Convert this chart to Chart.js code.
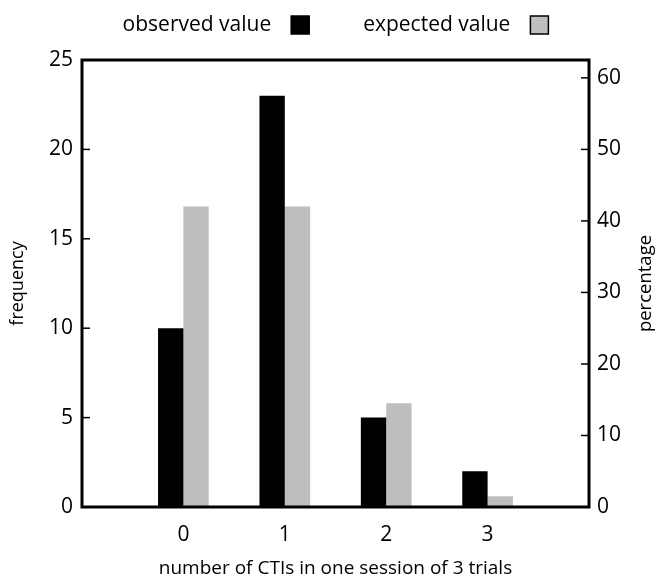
<!DOCTYPE html>
<html>
<head>
<meta charset="utf-8">
<script src="https://cdn.jsdelivr.net/npm/chart.js@4"></script>
<style>
  html, body { margin: 0; padding: 0; background: #fff; }
  #wrap { width: 660px; height: 577px; }
</style>
</head>
<body>
<div id="wrap"><canvas id="c" width="660" height="577"></canvas></div>
<script>
const categories = [0, 1, 2, 3];
const observed = [10, 23, 5, 2];
const expected = [16.8, 16.8, 5.8, 0.6];
const seriesNames = ['observed value', 'expected value'];
const freqTicksMax = 25;
const totalObserved = observed.reduce((a, b) => a + b, 0);

const FONT = '"Open Sans", "DejaVu Sans", sans-serif';

const boxPlugin = {
  id: 'boxAndExtras',
  afterDraw(chart) {
    const ctx = chart.ctx;
    const a = chart.chartArea;
    ctx.save();
    ctx.strokeStyle = '#000';
    ctx.lineWidth = 1.5;
    const y = chart.scales.y, y2 = chart.scales.y2;
    y.ticks.forEach((t, i) => {
      const p = y.getPixelForTick(i);
      ctx.beginPath(); ctx.moveTo(a.left, p); ctx.lineTo(a.left + 8, p); ctx.stroke();
    });
    y2.ticks.forEach((t, i) => {
      const p = y2.getPixelForTick(i);
      ctx.beginPath(); ctx.moveTo(a.right, p); ctx.lineTo(a.right - 8, p); ctx.stroke();
    });
    ctx.lineWidth = 3;
    ctx.strokeRect(a.left, a.top, a.right - a.left, a.bottom - a.top);
    ctx.fillStyle = '#000';
    ctx.font = '18.5px ' + FONT;
    ctx.textAlign = 'center';
    ctx.textBaseline = 'middle';
    ctx.translate(646, (a.top + a.bottom) / 2);
    ctx.rotate(-Math.PI / 2);
    ctx.fillText('percentage', 0, 0);
    ctx.restore();

    ctx.save();
    ctx.font = '21px ' + FONT;
    ctx.textBaseline = 'middle';
    ctx.textAlign = 'left';
    const gapTextBox = 20, boxS = 18, gapItems = 54;
    const items = chart.data.datasets.map(ds => ({ text: ds.label, color: ds.backgroundColor, w: ctx.measureText(ds.label).width }));
    let total = 0;
    items.forEach((it, i) => { total += it.w + gapTextBox + boxS + (i ? gapItems : 0); });
    let x = (a.left + a.right) / 2 - total / 2;
    const cy = 25;
    items.forEach((it, i) => {
      if (i) x += gapItems;
      ctx.fillStyle = '#000';
      ctx.fillText(it.text, x, cy);
      x += it.w + gapTextBox;
      ctx.fillStyle = it.color;
      ctx.fillRect(x, cy - boxS / 2, boxS, boxS);
      ctx.strokeStyle = '#000';
      ctx.lineWidth = 1.5;
      ctx.strokeRect(x, cy - boxS / 2, boxS, boxS);
      x += boxS;
    });
    ctx.restore();
  }
};

new Chart(document.getElementById('c'), {
  type: 'bar',
  data: {
    datasets: [
      { label: seriesNames[0], data: categories.map((c, i) => ({ x: c, y: observed[i] })), backgroundColor: '#000000', yAxisID: 'y' },
      { label: seriesNames[1], data: categories.map((c, i) => ({ x: c, y: expected[i] })), backgroundColor: '#bebebe', yAxisID: 'y' }
    ]
  },
  options: {
    responsive: false,
    animation: false,
    devicePixelRatio: 1,
    layout: { padding: { top: 60, left: 0, right: 0, bottom: 0 } },
    datasets: { bar: { categoryPercentage: 0.5, barPercentage: 1.0, borderWidth: 0 } },
    plugins: { legend: { display: false }, tooltip: { enabled: false } },
    scales: {
      x: {
        type: 'linear', min: -1, max: 4, offset: false,
        grid: { display: false, drawTicks: false },
        border: { display: false },
        ticks: {
          stepSize: 1, color: '#000', padding: 15,
          font: { family: FONT, size: 21 },
          callback: v => (categories.includes(v) ? String(v) : '')
        },
        title: { display: true, text: 'number of CTIs in one session of 3 trials', color: '#000', font: { family: FONT, size: 19 }, padding: { top: 0, bottom: -3 } },
        afterFit: s => { s.height = 70; }
      },
      y: {
        position: 'left', min: 0, max: freqTicksMax,
        grid: { display: false, drawTicks: false },
        border: { display: false },
        ticks: { stepSize: 5, color: '#000', padding: 9, font: { family: FONT, size: 21 } },
        title: { display: true, text: 'frequency', color: '#000', font: { family: FONT, size: 18 }, padding: { top: 7, bottom: 0 } },
        afterFit: s => { s.width = 82; }
      },
      y2: {
        position: 'right', min: 0, max: freqTicksMax / totalObserved * 100,
        grid: { display: false, drawTicks: false },
        border: { display: false },
        ticks: { stepSize: 10, includeBounds: false, color: '#000', padding: 8, font: { family: FONT, size: 21 } },
        afterFit: s => { s.width = 71; }
      }
    }
  },
  plugins: [boxPlugin]
});
</script>
</body>
</html>
